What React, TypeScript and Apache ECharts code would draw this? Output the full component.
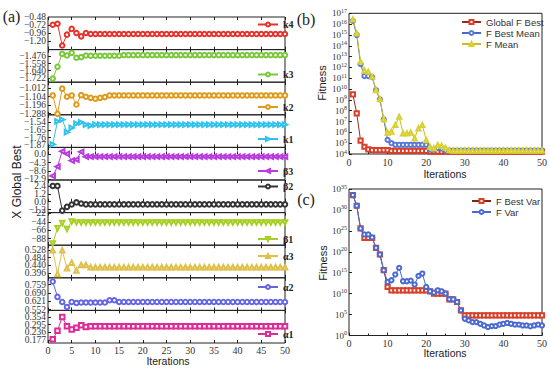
import React, { useEffect, useRef } from "react";
import * as echarts from "echarts";

const SERIF = "'Liberation Serif', 'Times New Roman', serif";
const SANS = "'Liberation Sans', Arial, sans-serif";

// ---------- data ----------
const iterations = [
  1, 2, 3, 4, 5, 6, 7, 8, 9, 10, 11, 12, 13, 14, 15, 16, 17, 18, 19, 20, 21, 22, 23, 24, 25,
  26, 27, 28, 29, 30, 31, 32, 33, 34, 35, 36, 37, 38, 39, 40, 41, 42, 43, 44, 45, 46, 47, 48, 49, 50,
];

const k4 = [-0.71, -0.68, -1.32, -1.0, -0.83, -0.95, -1.05, -0.95, -0.98, -0.98, -0.98, -0.98, -0.98, -0.98, -0.98, -0.98, -0.98, -0.98, -0.98, -0.98, -0.98, -0.98, -0.98, -0.98, -0.98, -0.98, -0.98, -0.98, -0.98, -0.98, -0.98, -0.98, -0.98, -0.98, -0.98, -0.98, -0.98, -0.98, -0.98, -0.98, -0.98, -0.98, -0.98, -0.98, -0.98, -0.98, -0.98, -0.98, -0.98, -0.98];
const k3 = [-1.728, -1.594, -1.448, -1.467, -1.437, -1.493, -1.486, -1.467, -1.47, -1.47, -1.47, -1.47, -1.47, -1.47, -1.47, -1.462, -1.462, -1.462, -1.462, -1.462, -1.462, -1.462, -1.462, -1.462, -1.462, -1.462, -1.462, -1.462, -1.462, -1.462, -1.462, -1.462, -1.462, -1.462, -1.462, -1.462, -1.462, -1.462, -1.462, -1.462, -1.462, -1.462, -1.462, -1.462, -1.462, -1.462, -1.462, -1.462, -1.462, -1.462];
const k2 = [-1.092, -1.29, -1.019, -1.106, -1.092, -1.19, -1.089, -1.106, -1.118, -1.128, -1.118, -1.11, -1.092, -1.092, -1.092, -1.092, -1.092, -1.092, -1.092, -1.092, -1.092, -1.092, -1.092, -1.092, -1.092, -1.092, -1.092, -1.092, -1.092, -1.092, -1.092, -1.092, -1.092, -1.092, -1.092, -1.092, -1.092, -1.092, -1.092, -1.092, -1.092, -1.092, -1.092, -1.092, -1.092, -1.092, -1.092, -1.092, -1.092, -1.092];
const k1 = [-1.857, -1.525, -1.5, -1.68, -1.62, -1.558, -1.54, -1.572, -1.586, -1.572, -1.572, -1.572, -1.572, -1.572, -1.572, -1.572, -1.572, -1.572, -1.572, -1.572, -1.572, -1.572, -1.572, -1.572, -1.572, -1.572, -1.572, -1.572, -1.572, -1.572, -1.572, -1.572, -1.572, -1.572, -1.572, -1.572, -1.572, -1.572, -1.572, -1.572, -1.572, -1.572, -1.572, -1.572, -1.572, -1.572, -1.572, -1.572, -1.572, -1.572];
const beta3 = [-11.1, -6.3, 1.6, 0.3, -3.2, -2.7, 1.3, -1.2, -1.2, -1.2, -1.2, -1.2, -1.2, -1.2, -1.2, -1.2, -1.2, -1.2, -1.2, -1.2, -1.2, -1.2, -1.2, -1.2, -1.2, -1.2, -1.2, -1.2, -1.2, -1.2, -1.2, -1.2, -1.2, -1.2, -1.2, -1.2, -1.2, -1.2, -1.2, -1.2, -1.2, -1.2, -1.2, -1.2, -1.2, -1.2, -1.2, -1.2, -1.2, -1.2];
const beta2 = [2.4, 2.4, -1.35, -0.78, -0.42, -0.1, -0.28, -0.4, -0.4, -0.4, -0.4, -0.4, -0.4, -0.4, -0.4, -0.4, -0.4, -0.4, -0.4, -0.4, -0.4, -0.4, -0.4, -0.4, -0.4, -0.4, -0.4, -0.4, -0.4, -0.4, -0.4, -0.4, -0.4, -0.4, -0.4, -0.4, -0.4, -0.4, -0.4, -0.4, -0.4, -0.4, -0.4, -0.4, -0.4, -0.4, -0.4, -0.4, -0.4, -0.4];
const beta1 = [-100.6, -60.7, -47.4, -62.5, -43.1, -45.5, -46, -46, -46, -46, -46, -46, -46, -46, -46, -46, -46, -46, -46, -46, -46, -46, -46, -46, -46, -46, -46, -46, -46, -46, -46, -46, -46, -46, -46, -46, -46, -46, -46, -46, -46, -46, -46, -46, -46, -46, -46, -46, -46, -46];
const alpha3 = [0.526, 0.392, 0.526, 0.424, 0.456, 0.411, 0.443, 0.443, 0.43, 0.43, 0.43, 0.43, 0.43, 0.43, 0.43, 0.43, 0.43, 0.43, 0.43, 0.43, 0.43, 0.43, 0.43, 0.43, 0.43, 0.43, 0.43, 0.43, 0.43, 0.43, 0.43, 0.43, 0.43, 0.43, 0.43, 0.43, 0.43, 0.43, 0.43, 0.43, 0.43, 0.43, 0.43, 0.43, 0.43, 0.43, 0.43, 0.43, 0.43, 0.43];
const alpha2 = [0.784, 0.657, 0.615, 0.573, 0.615, 0.607, 0.61, 0.61, 0.61, 0.61, 0.61, 0.61, 0.629, 0.629, 0.615, 0.615, 0.615, 0.615, 0.615, 0.615, 0.615, 0.615, 0.615, 0.615, 0.615, 0.615, 0.615, 0.615, 0.615, 0.615, 0.615, 0.615, 0.615, 0.615, 0.615, 0.615, 0.615, 0.615, 0.615, 0.615, 0.615, 0.615, 0.615, 0.615, 0.615, 0.615, 0.615, 0.615, 0.615, 0.615];
const alpha1 = [0.183, 0.248, 0.354, 0.284, 0.259, 0.271, 0.291, 0.278, 0.284, 0.284, 0.284, 0.284, 0.284, 0.284, 0.284, 0.284, 0.284, 0.284, 0.284, 0.284, 0.284, 0.284, 0.284, 0.284, 0.284, 0.284, 0.284, 0.284, 0.284, 0.284, 0.284, 0.284, 0.284, 0.284, 0.284, 0.284, 0.284, 0.284, 0.284, 0.284, 0.284, 0.284, 0.284, 0.284, 0.284, 0.284, 0.284, 0.284, 0.284, 0.284];

// y tick labels of the stacked panels
const k4Ticks = [-0.48, -0.72, -0.96, -1.2];
const k3Ticks = [-1.476, -1.558, -1.64, -1.722];
const k2Ticks = [-1.012, -1.104, -1.196, -1.288];
const k1Ticks = [-1.54, -1.65, -1.76, -1.87];
const beta3Ticks = [0.0, -4.3, -8.6, -12.9];
const beta2Ticks = [2.4, 1.2, 0.0, -1.2];
const beta1Ticks = [-22, -44, -66, -88];
const alpha3Ticks = [0.528, 0.484, 0.44, 0.396];
const alpha2Ticks = [0.759, 0.69, 0.621, 0.552];
const alpha1Ticks = [0.354, 0.295, 0.236, 0.177];

// (b) fitness, stored as exponents of 10
const globalFBestExp = [9.5, 7.76, 5.23, 4.67, 4.43, 4.35, 4.35, 4.35, 4.35, 4.35, 4.28, 4.28, 4.28, 4.28, 4.28, 4.28, 4.28, 4.28, 4.28, 4.28, 4.22, 4.22, 4.22, 4.22, 4.22, 4.22, 4.22, 4.22, 4.22, 4.22, 4.22, 4.22, 4.22, 4.22, 4.22, 4.22, 4.22, 4.22, 4.22, 4.22, 4.22, 4.22, 4.22, 4.22, 4.22, 4.22, 4.22, 4.22, 4.22, 4.22];
const fBestMeanExp = [16.3, 15.0, 12.3, 11.2, 11.2, 11.1, 9.9, 9.05, 7.2, 5.3, 5.0, 4.85, 4.85, 4.85, 4.85, 4.85, 4.85, 4.85, 4.85, 4.85, 4.4, 4.4, 4.55, 4.5, 4.32, 4.32, 4.32, 4.32, 4.32, 4.32, 4.32, 4.32, 4.32, 4.32, 4.32, 4.32, 4.32, 4.32, 4.32, 4.32, 4.32, 4.32, 4.32, 4.32, 4.32, 4.32, 4.32, 4.32, 4.32, 4.32];
const fMeanExp = [16.44, 15.15, 12.53, 11.7, 11.6, 11.14, 9.91, 9.08, 7.23, 5.97, 6.06, 6.68, 7.44, 5.91, 5.91, 5.97, 5.45, 6.37, 6.68, 5.29, 4.67, 4.52, 4.83, 4.76, 4.58, 4.35, 4.32, 4.32, 4.32, 4.32, 4.32, 4.32, 4.32, 4.32, 4.32, 4.32, 4.32, 4.32, 4.32, 4.32, 4.32, 4.32, 4.32, 4.32, 4.32, 4.32, 4.32, 4.32, 4.32, 4.32];
const bTickExp = [4, 5, 6, 7, 8, 9, 10, 11, 12, 13, 14, 15, 16, 17];

// (c) variance, stored as exponents of 10
const fBestVarExp = [33.56, 31.0, 25.58, 23.3, 23.3, 23.3, 20.94, 19.35, 15.6, 11.6, 10.8, 10.8, 10.8, 10.8, 10.8, 10.8, 10.8, 10.8, 10.8, 10.8, 10.56, 10.0, 10.0, 10.0, 10.0, 8.65, 8.65, 8.0, 6.0, 4.8, 4.8, 4.8, 4.8, 4.8, 4.8, 4.8, 4.8, 4.8, 4.8, 4.8, 4.8, 4.8, 4.8, 4.8, 4.8, 4.8, 4.8, 4.8, 4.8, 4.8];
const fVarExp = [33.56, 31.0, 25.58, 24.14, 24.14, 23.43, 20.94, 19.35, 15.6, 12.8, 13.2, 14.56, 16.15, 12.96, 12.96, 13.1, 12.17, 14.24, 14.8, 11.6, 10.56, 10.24, 10.8, 10.56, 10.0, 8.65, 8.65, 8.0, 6.0, 4.0, 3.6, 3.2, 3.2, 2.8, 2.4, 2.0, 2.25, 2.25, 2.6, 2.8, 3.0, 2.8, 2.6, 2.6, 2.4, 2.4, 2.2, 2.4, 2.6, 2.4];
const cTickExp = [0, 5, 10, 15, 20, 25, 30, 35];

// ---------- layout ----------
const LEFT_X = 48;
const LEFT_W = 237;
const LEFT_TOP = 17;
const LEFT_H = 326;
const N = 10;
const PH = LEFT_H / N;

const panels = [
  { name: "k4", data: k4, color: "#e8302a", symbol: "emptyCircle", rot: 0, min: -1.44, max: -0.48, ticks: k4Ticks, dec: 2, legendY: 25.5 },
  { name: "k3", data: k3, color: "#78c93a", symbol: "emptyCircle", rot: 0, min: -1.77, max: -1.4, ticks: k3Ticks, dec: 3, legendY: 75.5 },
  { name: "k2", data: k2, color: "#e09a1a", symbol: "emptyCircle", rot: 0, min: -1.3, max: -0.95, ticks: k2Ticks, dec: 3, legendY: 108 },
  { name: "k1", data: k1, color: "#30c2ec", symbol: "emptyTriangle", rot: -90, min: -1.9, max: -1.43, ticks: k1Ticks, dec: 2, legendY: 140 },
  { name: "β3", data: beta3, color: "#b93be0", symbol: "emptyTriangle", rot: 90, min: -13.2, max: 3.6, ticks: beta3Ticks, dec: 1, legendY: 172 },
  { name: "β2", data: beta2, color: "#333333", symbol: "emptyCircle", rot: 0, min: -1.65, max: 3.3, ticks: beta2Ticks, dec: 1, legendY: 187.5 },
  { name: "β1", data: beta1, color: "#a8cf24", symbol: "emptyTriangle", rot: 180, min: -105, max: -20, ticks: beta1Ticks, dec: 0, legendY: 240 },
  { name: "α3", data: alpha3, color: "#dfc04a", symbol: "emptyTriangle", rot: 0, min: 0.37, max: 0.555, ticks: alpha3Ticks, dec: 3, legendY: 257 },
  { name: "α2", data: alpha2, color: "#6464e6", symbol: "emptyCircle", rot: 0, min: 0.545, max: 0.815, ticks: alpha2Ticks, dec: 3, legendY: 288 },
  { name: "α1", data: alpha1, color: "#e02a98", symbol: "emptyRect", rot: 0, min: 0.155, max: 0.405, ticks: alpha1Ticks, dec: 3, legendY: 335 },
];

const fmtNum = (v: number, dec: number) => v.toFixed(dec).replace("-", "\u2212");

const supRich = {
  b: { fontFamily: SERIF, fontSize: 9, color: "#333", lineHeight: 11 },
  s: { fontFamily: SERIF, fontSize: 6, color: "#333", lineHeight: 4, verticalAlign: "top" },
};

function buildOption(): any {
  const grid: any[] = [];
  const xAxis: any[] = [];
  const yAxis: any[] = [];
  const series: any[] = [];
  const legend: any[] = [];

  panels.forEach((p, i) => {
    grid.push({
      left: LEFT_X,
      width: LEFT_W,
      top: LEFT_TOP + i * PH,
      height: PH,
      show: true,
      borderColor: "#222",
      borderWidth: 1,
      backgroundColor: "transparent",
    });
    const isLast = i === N - 1;
    xAxis.push({
      gridIndex: i,
      type: "value",
      min: 0,
      max: 50,
      interval: 5,
      position: "bottom",
      axisLine: { show: false },
      axisTick: { show: true, inside: true, length: 3, lineStyle: { color: "#222" } },
      axisLabel: {
        show: isLast,
        fontFamily: SERIF,
        fontSize: 10,
        color: "#333",
        margin: 2,
        hideOverlap: false,
        showMinLabel: true,
        showMaxLabel: true,
      },
      splitLine: { show: false },
    });
    xAxis.push({
      gridIndex: i,
      type: "value",
      min: 0,
      max: 50,
      interval: 5,
      position: "top",
      axisLine: { show: false },
      axisTick: { show: true, inside: true, length: 3, lineStyle: { color: "#222" } },
      axisLabel: { show: false },
      splitLine: { show: false },
    });
    // label positions: the panel's tick values framed by two blank guard labels at the panel edges
    const labelValues = [p.max, ...p.ticks, p.min];
    const lastIdx = labelValues.length - 1;
    yAxis.push({
      gridIndex: i,
      type: "value",
      min: p.min,
      max: p.max,
      axisLine: { show: false },
      axisTick: { show: true, inside: true, length: 3, customValues: p.ticks, lineStyle: { color: "#222" } },
      axisLabel: {
        customValues: labelValues,
        fontFamily: SERIF,
        fontSize: 9.5,
        lineHeight: 6,
        color: "#333",
        margin: 2,
        hideOverlap: false,
        formatter: (v: number, idx: number) => (idx === 0 || idx === lastIdx ? "" : fmtNum(v, p.dec)),
      },
      splitLine: { show: false },
    });
    series.push({
      name: p.name,
      type: "line",
      xAxisIndex: i * 2,
      yAxisIndex: i,
      data: iterations.map((x, j) => [x, p.data[j]]),
      symbol: p.symbol,
      symbolSize: 4.5,
      symbolRotate: p.rot,
      lineStyle: { width: 1, color: p.color },
      itemStyle: { color: p.color, borderWidth: 1 },
      emphasis: { disabled: true },
    });
    legend.push({
      data: [p.name],
      left: 257,
      top: p.legendY - 6,
      padding: 0,
      itemWidth: 20,
      itemHeight: 5,
      selectedMode: false,
      textStyle: { fontFamily: SERIF, fontWeight: "bold", fontSize: 10, color: "#222" },
    });
  });

  // (b)
  grid.push({ left: 349, width: 193, top: 13.3, height: 140.7, show: true, borderColor: "#222", borderWidth: 1 });
  // (c)
  grid.push({ left: 349, width: 193, top: 189, height: 146.5, show: true, borderColor: "#222", borderWidth: 1 });

  [10, 11].forEach((g) => {
    xAxis.push({
      gridIndex: g,
      type: "value",
      min: 0,
      max: 50,
      interval: 10,
      axisLine: { show: false },
      axisTick: { show: true, inside: true, length: 3, lineStyle: { color: "#222" } },
      minorTick: { show: true, splitNumber: 2, length: 2, lineStyle: { color: "#222" } },
      axisLabel: { fontFamily: SERIF, fontSize: 10, color: "#333", margin: 3, hideOverlap: false },
      splitLine: { show: false },
    });
  });

  const bTicks = bTickExp.map((e) => Math.pow(10, e));
  const cTicks = cTickExp.map((e) => Math.pow(10, e));
  yAxis.push({
    gridIndex: 10,
    type: "log",
    logBase: 10,
    min: 1e4,
    max: 1e17,
    axisLine: { show: false },
    axisTick: { show: true, inside: true, length: 3, customValues: bTicks, lineStyle: { color: "#222" } },
    axisLabel: {
      customValues: bTicks,
      margin: 2,
      hideOverlap: false,
      formatter: (v: number) => `{b|10}{s|${Math.round(Math.log10(v))}}`,
      rich: supRich,
    },
    splitLine: { show: false },
  });
  yAxis.push({
    gridIndex: 11,
    type: "log",
    logBase: 10,
    min: 1,
    max: 1e35,
    axisLine: { show: false },
    axisTick: { show: true, inside: true, length: 3, customValues: cTicks, lineStyle: { color: "#222" } },
    axisLabel: {
      customValues: cTicks,
      margin: 2,
      hideOverlap: false,
      formatter: (v: number) => `{b|10}{s|${Math.round(Math.log10(v))}}`,
      rich: supRich,
    },
    splitLine: { show: false },
  });

  const logSeries = (name: string, exps: number[], xi: number, yi: number, symbol: string, color: string, line: string, size = 4.2) => ({
    name,
    type: "line",
    xAxisIndex: xi,
    yAxisIndex: yi,
    data: iterations.map((x, j) => [x, Math.pow(10, exps[j])]),
    symbol,
    symbolSize: size,
    lineStyle: { width: 1, color: line },
    itemStyle: { color, borderWidth: 1 },
    emphasis: { disabled: true },
  });

  series.push(logSeries("Global F Best", globalFBestExp, 20, 10, "emptyRect", "#d8402a", "#9a2a1a"));
  series.push(logSeries("F Best Mean", fBestMeanExp, 20, 10, "emptyCircle", "#5a78d6", "#4a68c8"));
  series.push(logSeries("F Mean", fMeanExp, 20, 10, "emptyTriangle", "#d8d030", "#c8c020"));
  series.push(logSeries("F Best Var", fBestVarExp, 21, 11, "emptyRect", "#d8402a", "#7a2a10"));
  series.push(logSeries("F Var", fVarExp, 21, 11, "emptyCircle", "#4a6ad0", "#4a6ad0"));

  legend.push({
    data: ["Global F Best", "F Best Mean", "F Mean"],
    orient: "vertical",
    left: 461,
    top: 16.5,
    padding: 0,
    itemGap: 0,
    itemWidth: 19,
    itemHeight: 5,
    selectedMode: false,
    textStyle: { fontFamily: SANS, fontSize: 9.5, color: "#333", lineHeight: 11 },
  });
  legend.push({
    data: ["F Best Var", "F Var"],
    orient: "vertical",
    left: 471,
    top: 195.5,
    padding: 0,
    itemGap: 0,
    itemWidth: 19,
    itemHeight: 5,
    selectedMode: false,
    textStyle: { fontFamily: SANS, fontSize: 9.5, color: "#333", lineHeight: 11 },
  });

  const text = (t: string, x: number, y: number, font: string, rotation = 0) => ({
    type: "text",
    x,
    y,
    rotation,
    style: { text: t, font, fill: "#222", textAlign: "center", textVerticalAlign: "middle" },
  });

  const graphic = [
    text("(a)", 11.5, 16.5, `16px ${SERIF}`),
    text("(b)", 306, 19, `16px ${SERIF}`),
    text("(c)", 306, 199, `16px ${SERIF}`),
    text("X Global Best", 17, 182, `12px ${SANS}`, Math.PI / 2),
    text("Iterations", 168, 360.5, `10.5px ${SANS}`),
    text("Fitness", 322, 83, `11px ${SANS}`, Math.PI / 2),
    text("Iterations", 445, 174, `10.5px ${SANS}`),
    text("Fitness", 323, 263, `11px ${SANS}`, Math.PI / 2),
    text("Iterations", 445, 352.5, `10.5px ${SANS}`),
  ];

  return {
    animation: false,
    backgroundColor: "#fff",
    grid,
    xAxis,
    yAxis,
    series,
    legend,
    graphic,
  };
}

export default function App() {
  const ref = useRef<HTMLDivElement>(null);
  useEffect(() => {
    const chart = echarts.init(ref.current!, null, { renderer: "svg" });
    chart.setOption(buildOption());
    return () => chart.dispose();
  }, []);
  return (
    <div
      ref={ref}
      style={{ position: "absolute", left: 0, top: 0, width: 550, height: 374, background: "#fff" }}
    />
  );
}
